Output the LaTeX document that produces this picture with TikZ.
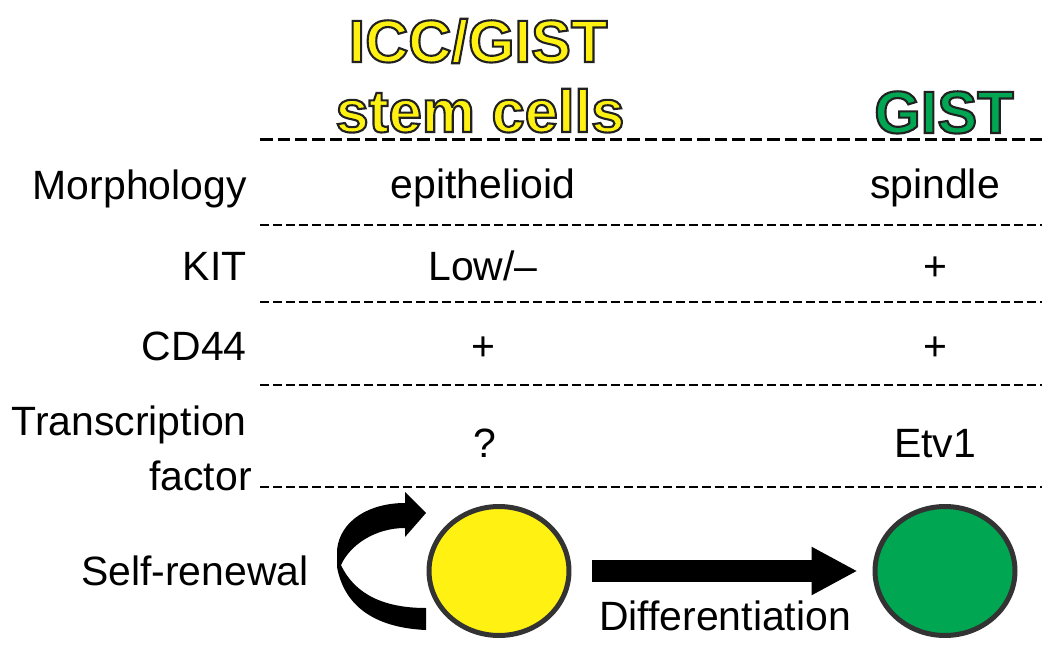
\documentclass[tikz,border=0pt]{standalone}
\usepackage{fontspec}
\setmainfont{Liberation Sans}
\usetikzlibrary{shapes.geometric,arrows.meta}

\definecolor{cellyellow}{HTML}{FFF212}
\definecolor{gistgreen}{HTML}{00A651}
\definecolor{rim}{HTML}{333333}

% texto relleno con contorno oscuro
\newcommand{\outlined}[2]{{\color{#1}\special{pdf:literal direct 2 Tr 1.2 w 0.13 0.13 0.13 RG}#2\special{pdf:literal direct 0 Tr}}}

\tikzset{
	rowlabel/.style={anchor=base east,inner sep=0pt,font=\fontsize{23.3}{28}\selectfont},
	cell/.style={anchor=base,inner sep=0pt,font=\fontsize{23.3}{28}\selectfont},
	heading/.style={anchor=base,inner sep=0pt,font=\fontsize{34}{40}\selectfont\bfseries},
	rowsep/.style={dash pattern=on 0.18cm off 0.08cm,line width=0.04cm},
	topsep/.style={dash pattern=on 0.25cm off 0.1cm,line width=0.06cm},
	cellcircle/.style={ellipse,draw=rim,line width=0.1cm,minimum width=2.8cm,minimum height=2.58cm,inner sep=0pt}
}

\begin{document}
\begin{tikzpicture}[x=0.02cm,y=-0.02cm]
	\path[use as bounding box] (0,0) rectangle (1050,648);

	% Titulos
	\node[heading] (icc) at (478,62) {\outlined{cellyellow}{ICC/GIST}};
	\node[heading] (stem) at (480,132) {\outlined{cellyellow}{stem cells}};
	\node[heading] (gist) at (944,133) {\outlined{gistgreen}{GIST}};

	% Lineas
	\draw[topsep] (260,140) -- (1042,140);
	\draw[rowsep] (260,225) -- (1042,225);
	\draw[rowsep] (260,302) -- (1042,302);
	\draw[rowsep] (260,385) -- (1042,385);
	\draw[rowsep] (260,487) -- (1042,487);

	% Filas
	\node[rowlabel] (morph) at (247,200) {Morphology};
	\node[cell] (epi) at (483,199) {epithelioid};
	\node[cell] (spin) at (935,199) {spindle};

	\node[rowlabel] (kit) at (247,280) {KIT};
	\node[cell] (kitlow) at (483,280) {Low/–};
	\node[cell] (kitpos) at (935,280) {+};

	\node[rowlabel] (cd) at (247,360) {CD44};
	\node[cell] (cdpos) at (483,360) {+};
	\node[cell] (cdpos2) at (935,360) {+};

	\node[rowlabel] (tf) at (247,435) {Transcription};
	\node[rowlabel] (tf2) at (252,490) {factor};
	\node[cell] (tfq) at (485,457) {?};
	\node[cell] (etv) at (935,457) {Etv1};

	% Celulas
	\node[cellcircle,fill=cellyellow] (yel) at (499,571) {};
	\node[cellcircle,fill=gistgreen] (grn) at (945,571) {};
	\node[rowlabel] (self) at (309,585) {Self-renewal};
	\node[cell] (diff) at (725,630) {Differentiation};

	% Flechas
	\fill (405,492) -- (426,513) -- (405,537) -- (405,528)
		.. controls (375,528) and (350,545) .. (341,565)
		.. controls (355,595) and (385,608) .. (426,608) -- (426,630)
		.. controls (380,628) and (345,610) .. (337,567) -- (337,550)
		.. controls (340,520) and (370,503) .. (405,503) -- cycle;
	\draw[line width=0.44cm,-{Triangle[length=0.92cm,width=0.9cm]},shorten <=0.42cm,shorten >=0.3cm] (yel) -- (grn);
\end{tikzpicture}
\end{document}
